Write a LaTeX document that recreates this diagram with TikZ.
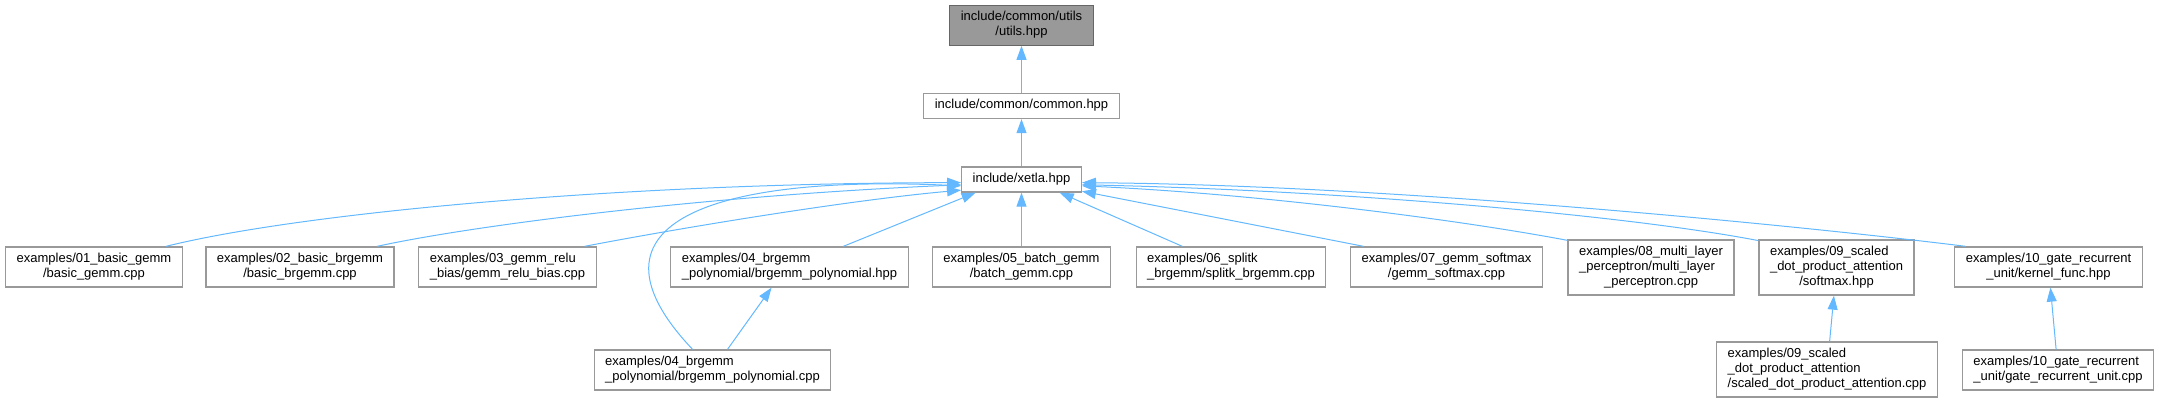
\documentclass[tikz,border=0pt]{standalone}
\usepackage{fontspec}
\setmainfont{Liberation Sans}
\usepackage{xcolor}
\usetikzlibrary{arrows.meta,positioning}
\definecolor{edgeblue}{HTML}{63B8FF}
\definecolor{boxgray}{HTML}{999999}
\definecolor{hlgray}{HTML}{666666}
\newcommand{\lbl}[2]{\begin{tabular}{@{}l@{}}#1\\\multicolumn{1}{@{}c@{}}{#2}\end{tabular}}

\begin{document}
\begin{tikzpicture}[x=1pt,y=-1pt,>={Triangle[length=14pt,width=10pt]},font=\fontsize{13}{15}\selectfont,
  box/.style={draw=boxgray,fill=white,line width=1.3pt,inner xsep=11pt,inner ysep=5pt},
  hl/.style={box,draw=hlgray,fill=boxgray},
  edge/.style={->,draw=edgeblue,line width=1pt}]
  \useasboundingbox (0,0) rectangle (2159,403);
  \node[hl] (utils) at (1021.5,25.2) {\lbl{include/common/utils}{/utils.hpp}};
  \node[box] (common) at (1021.5,106) {\strut include/common/common.hpp};
  \node[box] (xetla) at (1021.5,179.5) {\strut include/xetla.hpp};
  \node[box] (ex01) at (94,267) {\lbl{examples/01\_basic\_gemm}{/basic\_gemm.cpp}};
  \node[box] (ex02) at (300,267) {\lbl{examples/02\_basic\_brgemm}{/basic\_brgemm.cpp}};
  \node[box] (ex03) at (507.5,267) {\lbl{examples/03\_gemm\_relu}{\_bias/gemm\_relu\_bias.cpp}};
  \node[box] (ex04h) at (789.5,267) {\lbl{examples/04\_brgemm}{\_polynomial/brgemm\_polynomial.hpp}};
  \node[box] (ex05) at (1021.5,267) {\lbl{examples/05\_batch\_gemm}{/batch\_gemm.cpp}};
  \node[box] (ex06) at (1231,267) {\lbl{examples/06\_splitk}{\_brgemm/splitk\_brgemm.cpp}};
  \node[box] (ex07) at (1446.5,267) {\lbl{examples/07\_gemm\_softmax}{/gemm\_softmax.cpp}};
  \node[box] (ex08) at (1651,267.5) {\lbl{examples/08\_multi\_layer\\\_perceptron/multi\_layer}{\_perceptron.cpp}};
  \node[box] (ex09h) at (1836.5,267.5) {\lbl{examples/09\_scaled\\\_dot\_product\_attention}{/softmax.hpp}};
  \node[box] (ex10h) at (2048.5,267) {\lbl{examples/10\_gate\_recurrent}{\_unit/kernel\_func.hpp}};
  \node[box] (ex04c) at (712.5,370) {\lbl{examples/04\_brgemm}{\_polynomial/brgemm\_polynomial.cpp}};
  \node[box] (ex09c) at (1827,369.5) {\lbl{examples/09\_scaled\\\_dot\_product\_attention}{/scaled\_dot\_product\_attention.cpp}};
  \node[box] (ex10c) at (2058,370) {\lbl{examples/10\_gate\_recurrent}{\_unit/gate\_recurrent\_unit.cpp}};
  \draw[edge] (common) -- (utils);
  \draw[edge] (xetla) -- (common);
  \draw[edge] (ex01.16) .. controls (300,213) and (620,183) .. (xetla.183);
  \draw[edge] (ex02.15) .. controls (470,226) and (700,196) .. (xetla.185);
  \draw[edge] (ex03.15) .. controls (680,228) and (850,200) .. (xetla.190);
  \draw[edge] (ex04c.134) .. controls (570,220) and (720,175) .. (xetla.186);
  \draw[edge] (ex04h.21) -- (xetla.196);
  \draw[edge] (ex04c.54) -- (ex04h.229);
  \draw[edge] (ex05) -- (xetla);
  \draw[edge] (ex06.157) -- (xetla.341);
  \draw[edge] (ex07.166) -- (xetla.349);
  \draw[edge] (ex08.162) .. controls (1460,220) and (1260,194) .. (xetla.354);
  \draw[edge] (ex09h.161) .. controls (1620,214) and (1330,190) .. (xetla.355);
  \draw[edge] (ex10h.166) .. controls (1820,228) and (1400,185) .. (xetla.357);
  \draw[edge] (ex09c) -- (ex09h);
  \draw[edge] (ex10c) -- (ex10h);
\end{tikzpicture}
\end{document}
